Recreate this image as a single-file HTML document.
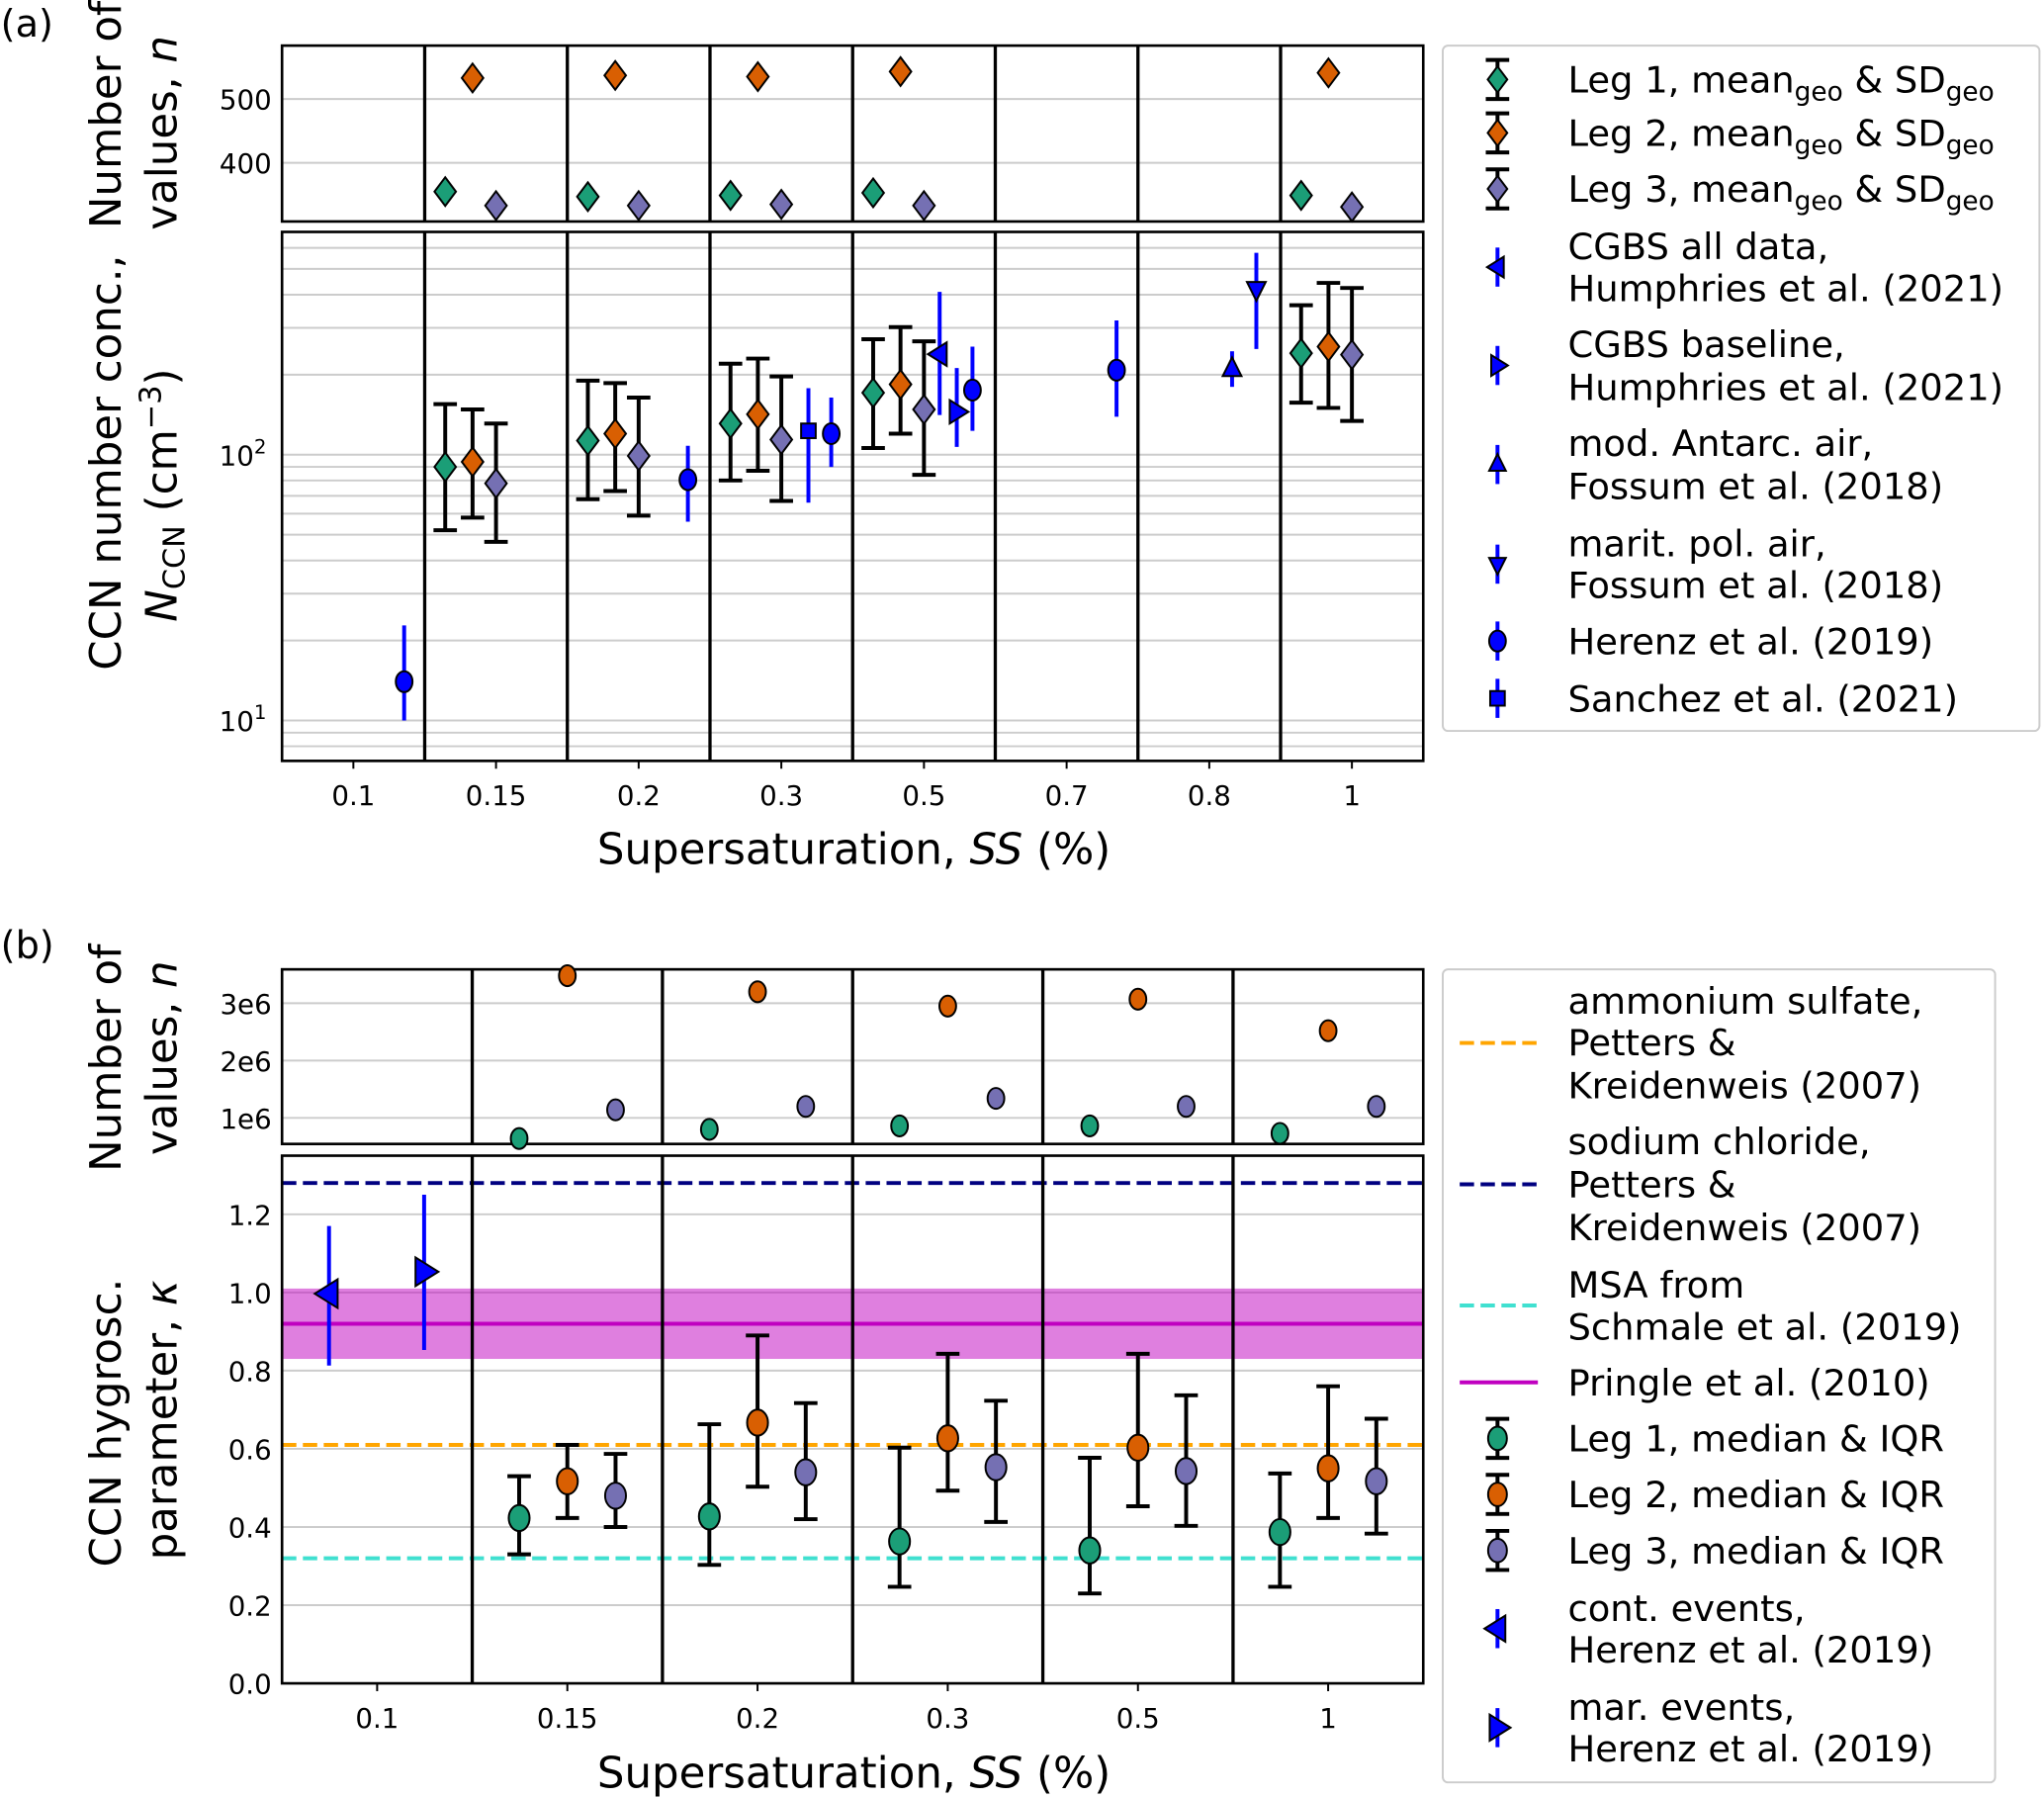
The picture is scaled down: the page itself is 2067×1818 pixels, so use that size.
<!DOCTYPE html>
<html><head><meta charset="utf-8"><style>
html,body{margin:0;padding:0;background:#fff}
svg{display:block;font-family:"DejaVu Sans","Liberation Sans",sans-serif}
</style></head><body>
<svg id="fig" width="2067" height="1818" viewBox="0 0 1568 1380" xmlns="http://www.w3.org/2000/svg">
<text x="0" y="28" font-size="29">(a)</text>
<text x="0" y="735" font-size="29">(b)</text>
<g id="gA"></g>
<g id="gB"></g>
<g font-size="28">
<rect x="1107" y="35" width="458" height="526" fill="#fff" stroke="#ccc" stroke-width="1.5" rx="4"/>
<g id="legA"></g>
</g>
<g font-size="28">
<rect x="1107" y="744" width="424" height="624" fill="#fff" stroke="#ccc" stroke-width="1.5" rx="4"/>
<g id="legB"></g>
</g>
</svg>
<script>
// ---------- Panel (a) data ----------
const catsA = ["0.1","0.15","0.2","0.3","0.5","0.7","0.8","1"];
const nCatsA = [1,2,3,4,7];
const nLeg1A = [355,347,349,353,349];
const nLeg2A = [533,537,535,543,541];
const nLeg3A = [333,333,335,333,331];
const ccnLeg1 = [90,113,131,171,241];
const ccnLeg1Hi = [155,190,220,272,365];
const ccnLeg1Lo = [52,68,80,106,157];
const ccnLeg2 = [94,120,142,184,255];
const ccnLeg2Hi = [148,186,230,302,443];
const ccnLeg2Lo = [58,73,87,120,150];
const ccnLeg3 = [78,99,114,148,238];
const ccnLeg3Hi = [131,164,197,267,424];
const ccnLeg3Lo = [47,59,67,84,134];
const herenzPos = [0.356,2.345,3.35,4.34,5.35];
const herenzVal = [14,80.5,120,175,208];
const herenzHi = [22.8,108,164,255,320];
const herenzLo = [10,56,90,123,139];
const sanchezPos=[3.19], sanchezVal=[123], sanchezHi=[178], sanchezLo=[66];
const cgbsAllPos=[4.11], cgbsAllVal=[239], cgbsAllHi=[410], cgbsAllLo=[141];
const cgbsBasePos=[4.23], cgbsBaseVal=[145], cgbsBaseHi=[212], cgbsBaseLo=[107];
const antarcPos=[6.16], antarcVal=[210], antarcHi=[245], antarcLo=[180];
const maritPos=[6.33], maritVal=[420], maritHi=[575], maritLo=[250];
const nTicksA=[400,500];
// ---------- Panel (b) data ----------
const catsB = ["0.1","0.15","0.2","0.3","0.5","1"];
const nCatsB = [1,2,3,4,5];
const nLeg1B = [0.64e6,0.80e6,0.86e6,0.86e6,0.73e6];
const nLeg2B = [3.48e6,3.2e6,2.95e6,3.07e6,2.52e6];
const nLeg3B = [1.14e6,1.2e6,1.34e6,1.2e6,1.2e6];
const kLeg1 = [0.423,0.427,0.363,0.34,0.387];
const kLeg1Hi = [0.53,0.663,0.603,0.577,0.537];
const kLeg1Lo = [0.33,0.303,0.247,0.23,0.247];
const kLeg2 = [0.517,0.667,0.627,0.603,0.55];
const kLeg2Hi = [0.61,0.89,0.843,0.843,0.76];
const kLeg2Lo = [0.423,0.503,0.493,0.453,0.423];
const kLeg3 = [0.48,0.54,0.553,0.543,0.517];
const kLeg3Hi = [0.587,0.717,0.723,0.737,0.677];
const kLeg3Lo = [0.40,0.42,0.413,0.403,0.383];
const contPos=[-0.253], contVal=[0.997], contHi=[1.17], contLo=[0.813];
const marPos=[0.247], marVal=[1.053], marHi=[1.25], marLo=[0.853];
const kAmmSulf=0.61, kNaCl=1.28, kMSA=0.32, kPringle=0.92, kPringleLo=0.83, kPringleHi=1.01;
const nTicksB=[1e6,2e6,3e6], nTickLabB=["1e6","2e6","3e6"];
const kTicks=[0,0.2,0.4,0.6,0.8,1.0,1.2];

const NS="http://www.w3.org/2000/svg";
function mk(parent,tag,attrs,text){const e=document.createElementNS(NS,tag);for(const k in attrs)e.setAttribute(k,attrs[k]);if(text!==undefined)e.textContent=text;parent.appendChild(e);return e;}
const G1="#1b9e77",OR="#d95f02",PU="#7570b3",BL="#0000ff";

function marker(p,type,x,y,fill,s){
  let e;
  if(type==="diamond") e=mk(p,"polygon",{points:`${x},${y-s} ${x+s*0.75},${y} ${x},${y+s} ${x-s*0.75},${y}`,fill:fill,stroke:"#000","stroke-width":1.5});
  else if(type==="circle") e=mk(p,"ellipse",{cx:x,cy:y,rx:s*0.8,ry:s,fill:fill,stroke:"#000","stroke-width":1.5});
  else if(type==="square") e=mk(p,"rect",{x:x-s*0.7,y:y-s*0.7,width:s*1.4,height:s*1.4,fill:fill,stroke:"#000","stroke-width":1.5});
  else {
    let pts;
    if(type==="left") pts=`${x-s},${y} ${x+s*0.6},${y-s} ${x+s*0.6},${y+s}`;
    if(type==="right") pts=`${x+s},${y} ${x-s*0.6},${y-s} ${x-s*0.6},${y+s}`;
    if(type==="up") pts=`${x},${y-s} ${x-s*0.8},${y+s*0.6} ${x+s*0.8},${y+s*0.6}`;
    if(type==="down") pts=`${x},${y+s} ${x-s*0.8},${y-s*0.6} ${x+s*0.8},${y-s*0.6}`;
    e=mk(p,"polygon",{points:pts,fill:fill,stroke:"#000","stroke-width":1.5});
  }
  return e;
}
function errbar(p,x,y1,y2,color,cap){
  const g=mk(p,"g",{});
  
  
  mk(g,"line",{x1:x,x2:x,y1:y1,y2:y2,stroke:color,"stroke-width":3});
  if(cap){mk(g,"line",{x1:x-9,x2:x+9,y1:y1,y2:y1,stroke:color,"stroke-width":3});mk(g,"line",{x1:x-9,x2:x+9,y1:y2,y2:y2,stroke:color,"stroke-width":3});}
}

// ---------- Panel A ----------
(function(){
  const g=document.getElementById("gA");
  const L=216,R=1092, tT=35,tB=170, mT=178,mB=584;
  const cw=(R-L)/8, x0=L+cw/2;
  const xA=i=>x0+i*cw;
  const yN=v=>76+(500-v)*0.49;
  const yL=v=>553-(Math.log10(v)-1)*204;
  nTicksA.forEach(t=>{mk(g,"line",{x1:L,x2:R,y1:yN(t),y2:yN(t),stroke:"#ccc","stroke-width":1.5});
    const tx=mk(g,"text",{x:L-8,y:yN(t)+8,"text-anchor":"end","font-size":21},t);
    });
  for(let d=0;d<3;d++)for(let m=1;m<10;m++){const v=m*Math.pow(10,d);const y=yL(v);if(y<mT||y>mB)continue;
    mk(g,"line",{x1:L,x2:R,y1:y,y2:y,stroke:"#ccc","stroke-width":1.5});}
  [[10,"1"],[100,"2"]].forEach(([v,e])=>{const t=mk(g,"text",{x:L-12,y:yL(v)+8,"text-anchor":"end","font-size":21});
    
    t.innerHTML=`10<tspan dy="-9" font-size="15">${e}</tspan>`;});
  for(let i=1;i<8;i++){mk(g,"line",{x1:L+i*cw,x2:L+i*cw,y1:tT,y2:tB,stroke:"#000","stroke-width":2.5});mk(g,"line",{x1:L+i*cw,x2:L+i*cw,y1:mT,y2:mB,stroke:"#000","stroke-width":2.5});}
  const f1=mk(g,"rect",{x:L,y:tT,width:R-L,height:tB-tT,fill:"none",stroke:"#000","stroke-width":2});
  
  const f2=mk(g,"rect",{x:L,y:mT,width:R-L,height:mB-mT,fill:"none",stroke:"#000","stroke-width":2});
  
  catsA.forEach((c,i)=>{mk(g,"line",{x1:xA(i),x2:xA(i),y1:mB,y2:mB+6,stroke:"#000","stroke-width":1.5});
    const t=mk(g,"text",{x:xA(i),y:mB+34,"text-anchor":"middle","font-size":21},c);
    });
  const xl=mk(g,"text",{x:655,y:663,"text-anchor":"middle","font-size":33});
  xl.innerHTML='Supersaturation, <tspan font-style="italic">SS</tspan> (%)';
  
  const yl1=mk(g,"text",{transform:"translate(92,88) rotate(-90)","text-anchor":"middle","font-size":33},"Number of");
  
  const yl2=mk(g,"text",{transform:"translate(135,102) rotate(-90)","text-anchor":"middle","font-size":33});
  yl2.innerHTML='values, <tspan font-style="italic">n</tspan>';
  
  const yl3=mk(g,"text",{transform:"translate(92,355) rotate(-90)","text-anchor":"middle","font-size":33},"CCN number conc.,");
  
  const yl4=mk(g,"text",{transform:"translate(135,380) rotate(-90)","text-anchor":"middle","font-size":33});
  yl4.innerHTML='<tspan font-style="italic">N</tspan><tspan font-size="23" dy="6">CCN</tspan><tspan dy="-6"> (cm</tspan><tspan font-size="23" dy="-12">−3</tspan><tspan dy="12">)</tspan>';
  
  const offs=[-39,-18,0], cols=[G1,OR,PU];
  const nSets=[nLeg1A,nLeg2A,nLeg3A];
  const vSets=[[ccnLeg1,ccnLeg1Hi,ccnLeg1Lo],[ccnLeg2,ccnLeg2Hi,ccnLeg2Lo],[ccnLeg3,ccnLeg3Hi,ccnLeg3Lo]];
  nCatsA.forEach((ci,j)=>{
    for(let s=0;s<3;s++){const x=xA(ci)+offs[s];
      const m=marker(g,"diamond",x,yN(nSets[s][j]),cols[s],11);
      
      errbar(g,x,yL(vSets[s][1][j]),yL(vSets[s][2][j]),"#000",true);
      const m2=marker(g,"diamond",x,yL(vSets[s][0][j]),cols[s],11);
      }
  });
  function ref(pos,val,hi,lo,type,name,s){pos.forEach((p,i)=>{const x=xA(p);errbar(g,x,yL(hi[i]),yL(lo[i]),BL,false);
    const m=marker(g,type,x,yL(val[i]),BL,s);});}
  ref(herenzPos,herenzVal,herenzHi,herenzLo,"circle","herenz-point",8);
  ref(sanchezPos,sanchezVal,sanchezHi,sanchezLo,"square","sanchez-point",8);
  ref(cgbsAllPos,cgbsAllVal,cgbsAllHi,cgbsAllLo,"left","cgbs-all-point",9);
  ref(cgbsBasePos,cgbsBaseVal,cgbsBaseHi,cgbsBaseLo,"right","cgbs-baseline-point",9);
  ref(antarcPos,antarcVal,antarcHi,antarcLo,"up","antarctic-air-point",9);
  ref(maritPos,maritVal,maritHi,maritLo,"down","maritime-polar-point",9);
})();

// ---------- Panel B ----------
(function(){
  const g=document.getElementById("gB");
  const L=216,R=1092,tT=744,tB=878,mT=887,mB=1292;
  const cw=(R-L)/6, x0=L+cw/2;
  const xB=i=>x0+i*cw;
  const yN=v=>858-(v-1e6)/1e6*44;
  const yK=v=>1292-v*300;
  nTicksB.forEach((t,i)=>{mk(g,"line",{x1:L,x2:R,y1:yN(t),y2:yN(t),stroke:"#ccc","stroke-width":1.5});
    const tx=mk(g,"text",{x:L-8,y:yN(t)+8,"text-anchor":"end","font-size":21},nTickLabB[i]);
    });
  kTicks.forEach(t=>{mk(g,"line",{x1:L,x2:R,y1:yK(t),y2:yK(t),stroke:"#ccc","stroke-width":1.5});
    const tx=mk(g,"text",{x:L-8,y:yK(t)+8,"text-anchor":"end","font-size":21},t.toFixed(1));
    });
  const band=mk(g,"rect",{x:L,y:yK(kPringleHi),width:R-L,height:yK(kPringleLo)-yK(kPringleHi),fill:"#c000c0","fill-opacity":0.5});
  
  function hl(v,c,dash,name){const l=mk(g,"line",{x1:L,x2:R,y1:yK(v),y2:yK(v),stroke:c,"stroke-width":3,"stroke-dasharray":dash});
    }
  hl(kPringle,"#c000c0","none","pringle-line");
  hl(kNaCl,"#000080","11 5","sodium-chloride-line");
  hl(kAmmSulf,"#ffa500","11 5","ammonium-sulfate-line");
  hl(kMSA,"#40e0d0","11 5","msa-line");
  for(let i=1;i<6;i++){mk(g,"line",{x1:L+i*cw,x2:L+i*cw,y1:tT,y2:tB,stroke:"#000","stroke-width":2.5});mk(g,"line",{x1:L+i*cw,x2:L+i*cw,y1:mT,y2:mB,stroke:"#000","stroke-width":2.5});}
  const f1=mk(g,"rect",{x:L,y:tT,width:R-L,height:tB-tT,fill:"none",stroke:"#000","stroke-width":2});
  
  const f2=mk(g,"rect",{x:L,y:mT,width:R-L,height:mB-mT,fill:"none",stroke:"#000","stroke-width":2});
  
  catsB.forEach((c,i)=>{mk(g,"line",{x1:xB(i),x2:xB(i),y1:mB,y2:mB+6,stroke:"#000","stroke-width":1.5});
    const t=mk(g,"text",{x:xB(i),y:mB+34,"text-anchor":"middle","font-size":21},c);
    });
  const xl=mk(g,"text",{x:655,y:1372,"text-anchor":"middle","font-size":33});
  xl.innerHTML='Supersaturation, <tspan font-style="italic">SS</tspan> (%)';
  
  const a=mk(g,"text",{transform:"translate(92,812) rotate(-90)","text-anchor":"middle","font-size":33},"Number of");
  
  const b=mk(g,"text",{transform:"translate(135,812) rotate(-90)","text-anchor":"middle","font-size":33});
  b.innerHTML='values, <tspan font-style="italic">n</tspan>';
  
  const c=mk(g,"text",{transform:"translate(92,1092) rotate(-90)","text-anchor":"middle","font-size":33},"CCN hygrosc.");
  
  const d=mk(g,"text",{transform:"translate(135,1090) rotate(-90)","text-anchor":"middle","font-size":33});
  d.innerHTML='parameter, <tspan font-style="italic">κ</tspan>';
  
  const offs=[-37,0,37], cols=[G1,OR,PU];
  const nSets=[nLeg1B,nLeg2B,nLeg3B];
  const vSets=[[kLeg1,kLeg1Hi,kLeg1Lo],[kLeg2,kLeg2Hi,kLeg2Lo],[kLeg3,kLeg3Hi,kLeg3Lo]];
  nCatsB.forEach((ci,j)=>{
    for(let s=0;s<3;s++){const x=xB(ci)+offs[s];
      const m=marker(g,"circle",x,yN(nSets[s][j]),cols[s],8);
      
      errbar(g,x,yK(vSets[s][1][j]),yK(vSets[s][2][j]),"#000",true);
      const m2=marker(g,"circle",x,yK(vSets[s][0][j]),cols[s],10);
      }
  });
  function ref(pos,val,hi,lo,type,name){pos.forEach((p,i)=>{const x=xB(p);errbar(g,x,yK(hi[i]),yK(lo[i]),BL,false);
    const m=marker(g,type,x,yK(val[i]),BL,11);});}
  ref(contPos,contVal,contHi,contLo,"left","continental-events-point");
  ref(marPos,marVal,marHi,marLo,"right","marine-events-point");
})();

// ---------- Legends ----------
(function(){
  const g=document.getElementById("legA");
  const sub='<tspan font-size="20" dy="6">geo</tspan>';
  const ent=[
    ["diamond",G1,true,[[61,'Leg 1, mean'+sub+'<tspan dy="-6"> &amp; SD</tspan>'+sub]]],
    ["diamond",OR,true,[[102,'Leg 2, mean'+sub+'<tspan dy="-6"> &amp; SD</tspan>'+sub]]],
    ["diamond",PU,true,[[145,'Leg 3, mean'+sub+'<tspan dy="-6"> &amp; SD</tspan>'+sub]]],
    ["left",BL,false,[[189,"CGBS all data,"],[221,"Humphries et al. (2021)"]]],
    ["right",BL,false,[[264,"CGBS baseline,"],[297,"Humphries et al. (2021)"]]],
    ["up",BL,false,[[340,"mod. Antarc. air,"],[373,"Fossum et al. (2018)"]]],
    ["down",BL,false,[[417,"marit. pol. air,"],[449,"Fossum et al. (2018)"]]],
    ["circle",BL,false,[[492,"Herenz et al. (2019)"]]],
    ["square",BL,false,[[536,"Sanchez et al. (2021)"]]]
  ];
  ent.forEach(([t,c,cap,lines])=>{
    const eg=mk(g,"g",{});
    
    
    const cy=(lines[0][0]+lines[lines.length-1][0])/2;
    errbar(eg,1149,cy-15,cy+15,cap?"#000":BL,cap);
    marker(eg,t,1149,cy,c,t==="diamond"?10:8);
    lines.forEach(([y,s])=>{const tx=mk(eg,"text",{x:1203,y:y+10});tx.innerHTML=s;});
  });
})();
(function(){
  const g=document.getElementById("legB");
  const ent=[
    ["line","#ffa500",[[768,"ammonium sulfate,"],[800,"Petters &amp;"],[833,"Kreidenweis (2007)"]]],
    ["line","#000080",[[876,"sodium chloride,"],[909,"Petters &amp;"],[942,"Kreidenweis (2007)"]]],
    ["line","#40e0d0",[[986,"MSA from"],[1018,"Schmale et al. (2019)"]]],
    ["solid","#c000c0",[[1061,"Pringle et al. (2010)"]]],
    ["circle",G1,[[1104,"Leg 1, median &amp; IQR"]]],
    ["circle",OR,[[1147,"Leg 2, median &amp; IQR"]]],
    ["circle",PU,[[1190,"Leg 3, median &amp; IQR"]]],
    ["left",BL,[[1234,"cont. events,"],[1266,"Herenz et al. (2019)"]]],
    ["right",BL,[[1310,"mar. events,"],[1342,"Herenz et al. (2019)"]]]
  ];
  ent.forEach(([t,c,lines])=>{
    const eg=mk(g,"g",{});
    
    
    const cy=(lines[0][0]+lines[lines.length-1][0])/2;
    if(t==="line"||t==="solid") mk(eg,"line",{x1:1120,x2:1180,y1:cy,y2:cy,stroke:c,"stroke-width":3,"stroke-dasharray":t==="line"?"11 5":"none"});
    else { const isLeg=(c!==BL); errbar(eg,1149,cy-15,cy+15,isLeg?"#000":BL,isLeg); marker(eg,t,1149,cy,c,isLeg?9:10); }
    lines.forEach(([y,s])=>{const tx=mk(eg,"text",{x:1203,y:y+10});tx.innerHTML=s;});
  });
})();
</script>
</body></html>
